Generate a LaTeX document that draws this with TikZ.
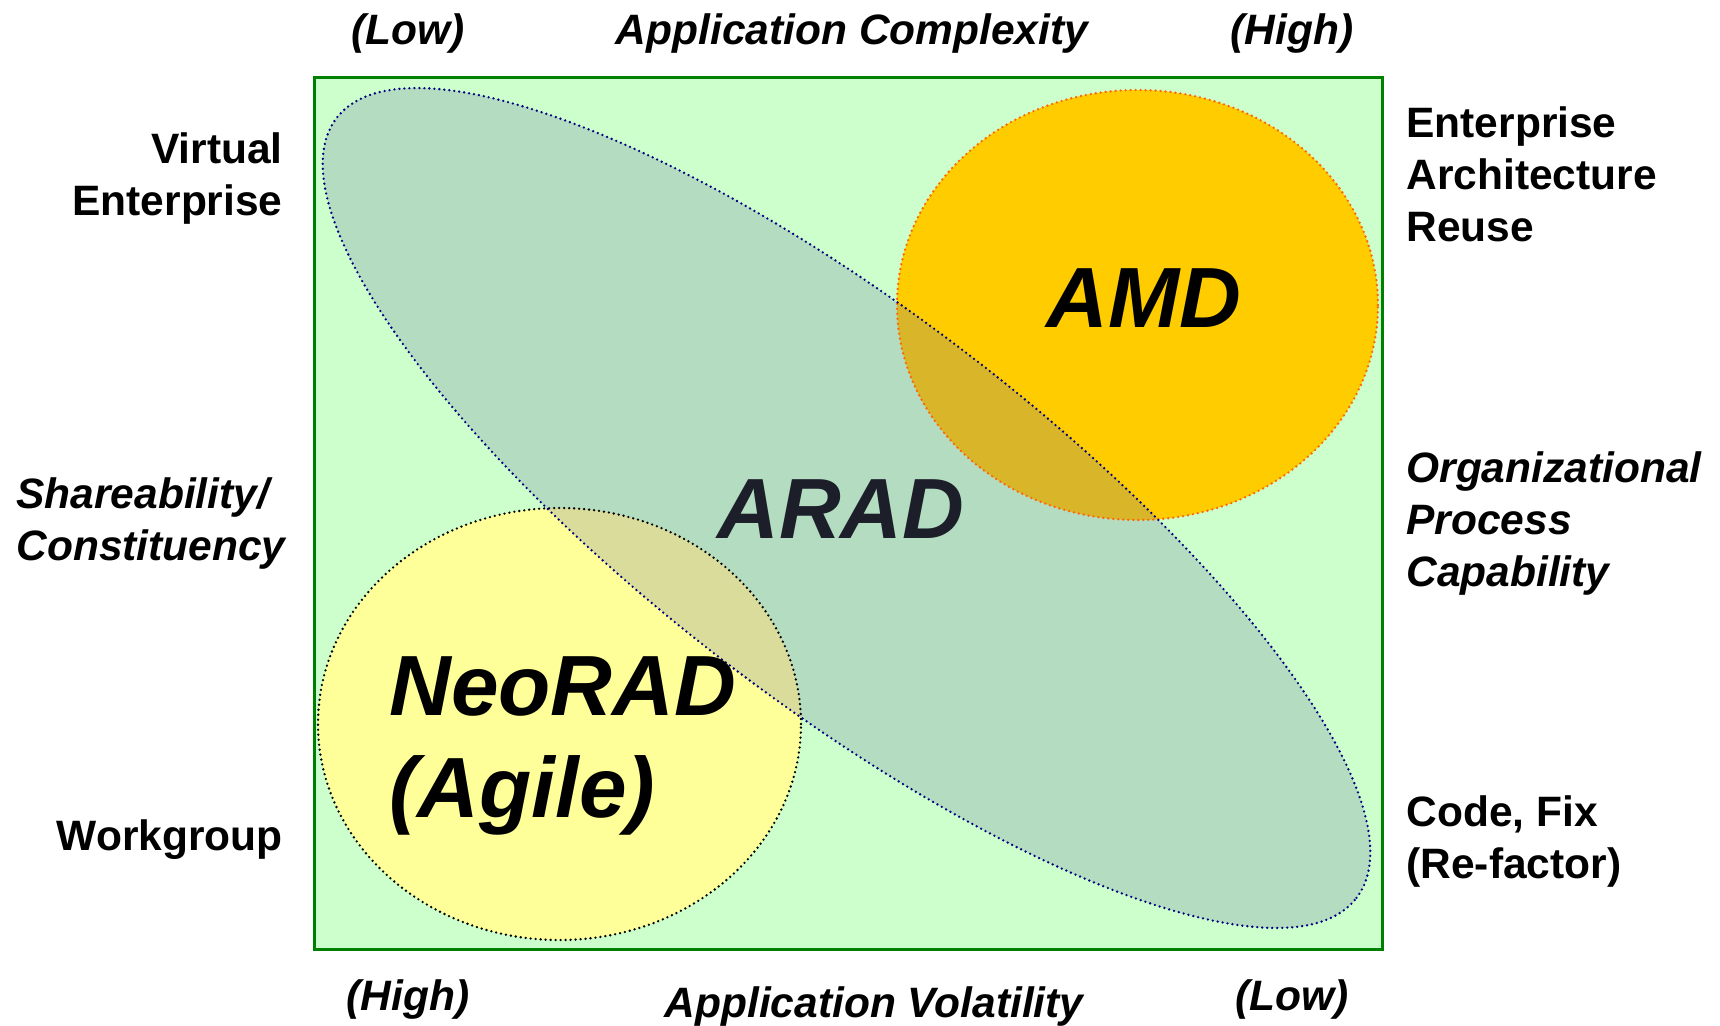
\documentclass[tikz,border=0pt]{standalone}
\usepackage{fontspec}
\setmainfont{Liberation Sans}
\definecolor{bggreen}{HTML}{CCFFCC}
\definecolor{framegreen}{HTML}{008000}
\definecolor{neoyellow}{HTML}{FFFF99}
\definecolor{amdorange}{HTML}{FFCC00}
\definecolor{amdedge}{HTML}{FF6600}
\definecolor{aradedge}{HTML}{000080}
\definecolor{aradfill}{RGB}{110,120,160}
\begin{document}
\begin{tikzpicture}[x=0.5pt,y=-0.5pt,
  lab/.style={font=\fontsize{21.25}{26}\selectfont\bfseries, inner sep=0pt},
  labi/.style={font=\fontsize{21.25}{26}\selectfont\bfseries\itshape, inner sep=0pt},
  big/.style={font=\fontsize{42.75}{51}\selectfont\bfseries\itshape, inner sep=0pt},
  dotb/.style={line width=1.3pt, line cap=round, dash pattern=on 0pt off 2.5pt}]
\useasboundingbox (0,0) rectangle (1720,1025);
% background panel
\fill[bggreen] (314,77) rectangle (1382,949);
% NeoRAD and AMD regions
\fill[neoyellow] (559.5,724) ellipse [x radius=120.75pt, y radius=108pt];
\fill[amdorange] (1137.5,305) ellipse [x radius=120.25pt, y radius=107.5pt];
% ARAD label under the tinted band
\node[big, text=black] (arad) at (841,509) {ARAD};
% ARAD band
\fill[aradfill, fill opacity=0.26, shift={(846.5,508)}, rotate=-37.4] (0,0) ellipse [x radius=321pt, y radius=98pt];
% dotted outlines
\draw[dotb, black] (559.5,724) ellipse [x radius=120.75pt, y radius=108pt];
\draw[dotb, amdedge] (1137.5,305) ellipse [x radius=120.25pt, y radius=107.5pt];
\draw[dotb, aradedge, shift={(846.5,508)}, rotate=-37.4] (0,0) ellipse [x radius=321pt, y radius=98pt];
% frame
\draw[framegreen, line width=1.5pt] (314,77) rectangle (1382,949);
% big labels
\node[big] (amd) at (1144,298) {AMD};
\node[big, anchor=west, align=left] (neo) at (389,746) {NeoRAD\\(Agile)};
% top axis
\node[labi, anchor=base] (tlow) at (408,44) {(Low)};
\node[labi, anchor=base] (tcx) at (852,44) {Application Complexity};
\node[labi, anchor=base] (thigh) at (1292,44) {(High)};
% bottom axis
\node[labi, anchor=base] (bhigh) at (408,1010) {(High)};
\node[labi, anchor=base] (bvol) at (874,1017) {Application Volatility};
\node[labi, anchor=base] (blow) at (1292,1010) {(Low)};
% left labels
\node[lab, anchor=east, align=right] (virt) at (283,178.5) {Virtual\\Enterprise};
\node[labi, anchor=west, align=left] (share) at (16,523) {Shareability/\\Constituency};
\node[lab, anchor=east] (work) at (283,840) {Workgroup};
% right labels
\node[lab, anchor=west, align=left] (ent) at (1406,174.5) {Enterprise\\Architecture\\Reuse};
\node[labi, anchor=west, align=left] (org) at (1406,523) {Organizational\\Process\\Capability};
\node[lab, anchor=west, align=left] (code) at (1406,841.5) {Code, Fix\\(Re-factor)};
\end{tikzpicture}
\end{document}
